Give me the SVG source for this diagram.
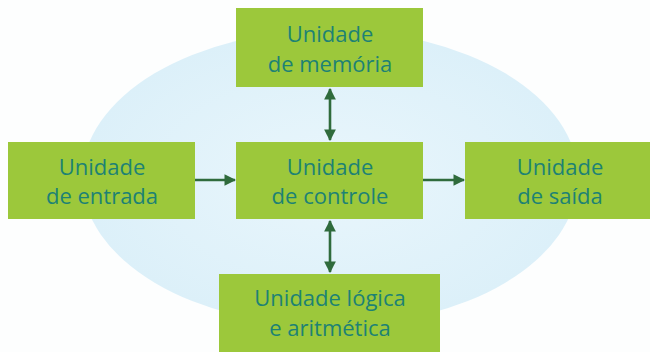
<svg xmlns="http://www.w3.org/2000/svg" width="650" height="352" viewBox="0 0 650 352">
<defs>
<radialGradient id="bg" cx="0.5" cy="0.5" r="0.5">
<stop offset="0" stop-color="#e9f6fc"/>
<stop offset="1" stop-color="#dcf0f9"/>
</radialGradient>
<marker id="ah" viewBox="0 0 10 10" refX="9" refY="5" markerWidth="4.5" markerHeight="4.5" orient="auto-start-reverse">
<path d="M0,0 L10,5 L0,10 z" fill="#2f6b3c"/>
</marker>
</defs>
<style>
.box{fill:#9cc83b;}
.t{font-family:"Open Sans","Noto Sans",sans-serif;font-size:22px;fill:#1d8274;text-anchor:middle;}
.c{stroke:#2f6b3c;stroke-width:2.6;fill:none;}
</style>
<rect width="650" height="352" fill="#fdfefe"/>
<ellipse cx="330" cy="178" rx="248" ry="148" fill="url(#bg)"/>
<g id="connectors">
<line class="c" x1="330" y1="89" x2="330" y2="140" marker-start="url(#ah)" marker-end="url(#ah)"/>
<line class="c" x1="330" y1="221" x2="330" y2="272" marker-start="url(#ah)" marker-end="url(#ah)"/>
<line class="c" x1="195" y1="180" x2="235" y2="180" marker-end="url(#ah)"/>
<line class="c" x1="423" y1="180" x2="464" y2="180" marker-end="url(#ah)"/>
</g>
<g id="memoria">
<rect class="box" x="236" y="8" width="187" height="79"/>
<text class="t" x="330" y="42">Unidade</text>
<text class="t" x="330" y="72">de memória</text>
</g>
<g id="entrada">
<rect class="box" x="8" y="142" width="187" height="77"/>
<text class="t" x="102" y="175">Unidade</text>
<text class="t" x="102" y="204">de entrada</text>
</g>
<g id="controle">
<rect class="box" x="236" y="142" width="187" height="77"/>
<text class="t" x="330" y="175">Unidade</text>
<text class="t" x="330" y="204">de controle</text>
</g>
<g id="saida">
<rect class="box" x="465" y="142" width="185" height="77"/>
<text class="t" x="560" y="175">Unidade</text>
<text class="t" x="560" y="204">de saída</text>
</g>
<g id="logica">
<rect class="box" x="219" y="274" width="221" height="78"/>
<text class="t" x="330" y="306">Unidade lógica</text>
<text class="t" x="330" y="336">e aritmética</text>
</g>
</svg>
